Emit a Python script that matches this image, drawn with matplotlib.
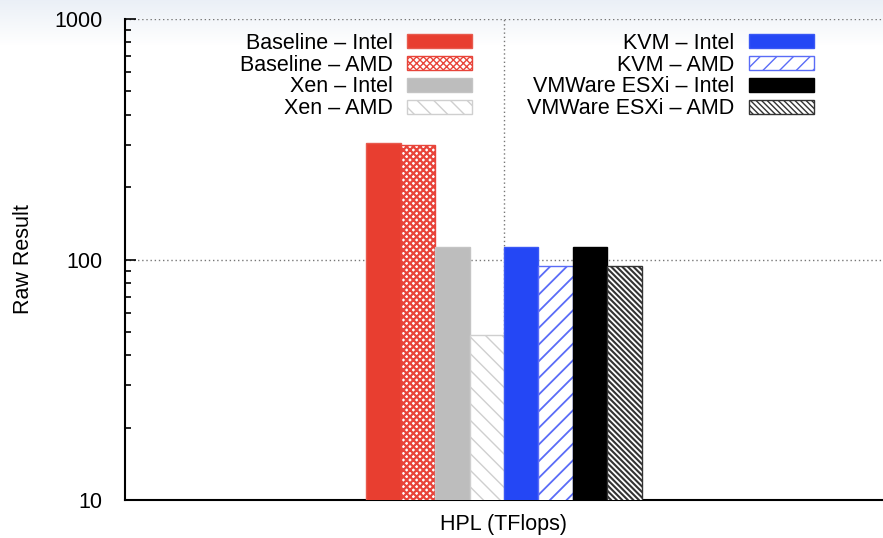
import numpy as np
import matplotlib
matplotlib.use("Agg")
import matplotlib.pyplot as plt

# data
series = ["Baseline \u2013 Intel", "Baseline \u2013 AMD", "Xen \u2013 Intel", "Xen \u2013 AMD",
          "KVM \u2013 Intel", "KVM \u2013 AMD", "VMWare ESXi \u2013 Intel", "VMWare ESXi \u2013 AMD"]
values = [306, 300, 113, 48.5, 113, 94, 113, 94]
category = "HPL (TFlops)"

# styles: (face, edge, hatch, hatch linewidth)
styles = [
    ("#e83e30", "#e85a4e", None, 1.0),
    ("white", "#e8443a", "xxxxx", 1.6),
    ("#bdbdbd", "#c4c4c4", None, 1.0),
    ("white", "#cfcfcf", "\\\\", 1.0),
    ("#2447f5", "#3a58f5", None, 1.0),
    ("white", "#5a6cf7", "//", 1.3),
    ("black", "black", None, 1.0),
    ("white", "#333333", "\\\\\\\\\\\\", 1.5),
]

plt.rcParams["font.family"] = ["Liberation Sans", "DejaVu Sans"]
plt.rcParams["font.size"] = 15.5

fig = plt.figure(figsize=(8.83, 5.38), dpi=100)

# light screenshot band at the top
bg = fig.add_axes([0, 0, 1, 1], zorder=-10)
grad = np.ones((538, 1, 3))
top = np.array([0.92, 0.94, 0.965])
for i in range(45):
    t = i / 45.0
    grad[i, 0, :] = top * (1 - t) + 1.0 * t
bg.imshow(grad, extent=[0, 1, 0, 1], aspect="auto")
bg.axis("off")

ax = fig.add_axes([125 / 883, 38 / 538, 1 - 125 / 883, 481 / 538])
ax.set_facecolor("none")

width = 0.0908
n = len(values)
offsets = (np.arange(n) - (n - 1) / 2) * width
for off, val, lab, (fc, ec, hatch, hlw) in zip(offsets, values, series, styles):
    with plt.rc_context({"hatch.linewidth": hlw}):
        ax.bar(0 + off, val, width, color=fc, edgecolor=ec, hatch=hatch,
               linewidth=1.0, label=lab, zorder=3)

ax.set_yscale("log")
ax.set_ylim(10, 1000)
ax.set_xlim(-1, 1)
ax.set_xticks([0])
ax.set_xticklabels([category])
ax.tick_params(axis="x", length=0, pad=10)
ax.tick_params(axis="y", which="both", direction="in", width=1.2, pad=16)
ax.tick_params(axis="y", which="major", length=8)
ax.tick_params(axis="y", which="minor", length=4)
ax.set_yticks([10, 100, 1000])
ax.set_yticklabels(["10", "100", "1000"])
ax.set_ylabel("Raw Result")
ax.yaxis.set_label_coords(-91 / 758, 0.5)

ax.grid(True, which="major", axis="both", linestyle=(0, (1, 2)), color="#777777",
        linewidth=1.0, zorder=0)
ax.spines["top"].set_visible(False)
ax.spines["right"].set_visible(False)
ax.spines["left"].set_linewidth(1.5)
ax.spines["bottom"].set_linewidth(1.5)

handles, labels = ax.get_legend_handles_labels()
# gnuplot fills column by column
leg = ax.legend(handles, labels, ncol=2, markerfirst=False, frameon=False,
                loc="upper center", bbox_to_anchor=(527 / 883, 1 - 22 / 538),
                bbox_transform=fig.transFigure,
                handlelength=3.05, handleheight=0.65, handletextpad=0.65,
                columnspacing=2.55, labelspacing=0.04, borderpad=0)

fig.savefig("out.png", dpi=100)
